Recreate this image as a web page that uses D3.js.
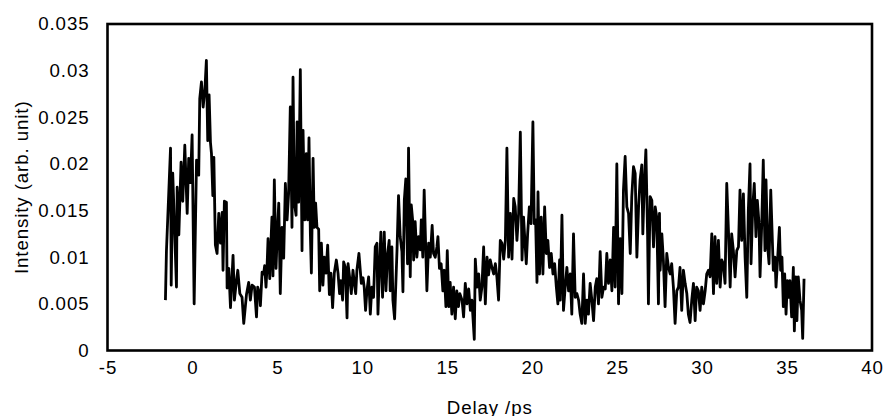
<!DOCTYPE html>
<html>
<head>
<meta charset="utf-8">
<script src="https://cdn.jsdelivr.net/npm/d3@7"></script>
<style>
  html, body { margin: 0; padding: 0; background: #fff; }
  svg text { font-family: "Liberation Sans", Arial, sans-serif; fill: #000; }
</style>
</head>
<body>
<svg id="chart" width="886" height="416"></svg>
<script>
// Pump-probe delay scan: measured intensity versus delay
const delay = [
  -1.59,-1.53,-1.29,-1.25,-1.16,-0.94,-0.90,-0.80,-0.67,-0.57,
  -0.45,-0.31,-0.22,-0.12,-0.02,0.10,0.24,0.37,0.43,0.53,
  0.63,0.73,0.82,0.90,0.98,1.06,1.12,1.20,1.26,1.35,
  1.45,1.55,1.65,1.75,1.80,1.88,2.00,2.04,2.14,2.24,
  2.39,2.47,2.59,2.67,2.79,2.92,3.02,3.18,3.31,3.41,
  3.51,3.65,3.77,3.84,3.96,
  4.00,4.10,4.19,4.25,4.33,4.39,4.45,4.55,4.63,4.68,
  4.74,4.82,4.92,4.98,5.08,5.17,5.27,5.37,5.47,5.57,
  5.66,5.76,5.86,5.92,6.00,6.10,6.16,6.25,6.35,6.45,
  6.51,6.61,6.70,6.78,6.86,6.94,7.00,7.10,7.17,7.25,
  7.33,7.43,7.49,7.59,7.68,7.76,7.86,7.96,8.06,8.15,
  8.25,8.35,8.47,8.57,8.66,8.74,8.84,8.90,9.00,9.10,
  9.16,9.25,9.35,9.45,9.53,9.61,9.68,9.80,
  9.94,10.04,10.11,10.19,10.27,10.37,10.47,10.56,10.66,10.76,
  10.86,10.92,11.02,11.09,11.19,11.29,11.39,11.49,11.58,11.64,
  11.74,11.80,11.90,12.04,12.13,12.23,12.33,12.39,12.47,12.56,
  12.66,12.72,12.82,12.88,12.96,13.02,13.11,13.21,13.31,13.41,
  13.47,13.56,13.64,13.74,13.80,13.90,14.00,14.11,14.19,14.29,
  14.39,14.45,14.54,14.64,14.74,14.82,14.92,15.00,15.09,15.17,
  15.27,15.37,15.47,15.56,15.66,15.74,
  15.87,15.96,16.06,16.16,16.26,16.36,16.45,16.59,16.65,16.75,
  16.85,16.94,17.04,17.14,17.24,17.34,17.43,17.53,17.63,17.73,
  17.83,17.92,18.02,18.12,18.22,18.32,18.42,18.51,18.61,18.71,
  18.81,18.91,19.00,19.10,19.20,19.30,19.40,19.49,19.59,19.65,
  19.73,19.83,19.93,20.04,20.12,20.20,20.28,20.34,20.43,20.53,
  20.63,20.73,20.83,20.92,21.02,21.12,21.22,21.32,21.42,21.51,
  21.61,
  21.65,21.75,21.84,21.94,22.04,22.14,22.24,22.33,22.43,22.53,
  22.63,22.73,22.82,22.92,23.02,23.12,23.22,23.31,23.41,23.51,
  23.61,23.71,23.80,23.90,24.00,24.10,24.20,24.30,24.39,24.49,
  24.59,24.69,24.79,24.88,24.98,25.08,25.18,25.28,25.37,25.47,
  25.57,25.67,25.77,25.86,25.96,26.06,26.16,26.26,26.35,26.45,
  26.51,26.59,26.69,26.79,26.84,26.94,27.04,27.14,27.24,27.33,
  27.43,27.49,
  27.53,27.63,27.72,27.82,27.92,28.02,28.12,28.21,28.31,28.41,
  28.51,28.61,28.70,28.80,28.90,29.00,29.10,29.19,29.29,29.39,
  29.49,29.59,29.68,29.78,29.88,29.98,30.08,30.18,30.27,30.37,
  30.47,30.57,30.67,30.76,30.86,30.96,31.06,31.16,31.25,31.35,
  31.45,31.55,31.65,31.74,31.84,31.94,32.04,32.14,32.23,32.33,
  32.43,32.53,32.63,32.72,32.82,
  32.88,32.98,33.07,33.17,33.25,33.35,33.41,33.51,33.60,33.70,
  33.76,33.86,33.94,34.04,34.11,34.19,34.29,34.35,34.45,34.55,
  34.62,34.70,34.78,34.86,34.94,35.02,35.09,35.17,35.27,35.37,
  35.43,35.51,35.58,35.66,35.76,35.86,35.92,36.00
];

const intensity = [
  0.0054,0.0107,0.0217,0.0070,0.0190,0.0068,0.0175,0.0124,0.0202,0.0160,
  0.0220,0.0147,0.0206,0.0180,0.0231,0.0050,0.0204,0.0188,0.0270,0.0288,
  0.0261,0.0279,0.0311,0.0225,0.0274,0.0223,0.0211,0.0166,0.0207,0.0113,
  0.0104,0.0147,0.0115,0.0148,0.0086,0.0160,0.0159,0.0067,0.0088,0.0046,
  0.0102,0.0054,0.0075,0.0086,0.0061,0.0057,0.0029,0.0060,0.0073,0.0054,
  0.0070,0.0068,0.0036,0.0068,0.0060,
  0.0048,0.0084,0.0082,0.0091,0.0068,0.0089,0.0120,0.0077,0.0120,0.0143,
  0.0080,0.0183,0.0088,0.0118,0.0158,0.0061,0.0132,0.0099,0.0179,0.0140,
  0.0168,0.0261,0.0132,0.0293,0.0158,0.0145,0.0245,0.0159,0.0301,0.0107,
  0.0236,0.0140,0.0211,0.0140,0.0228,0.0126,0.0083,0.0206,0.0132,0.0158,
  0.0132,0.0130,0.0064,0.0115,0.0070,0.0100,0.0083,0.0113,0.0060,0.0083,
  0.0046,0.0083,0.0097,0.0083,0.0061,0.0075,0.0054,0.0095,0.0089,0.0035,
  0.0093,0.0079,0.0061,0.0086,0.0072,0.0061,0.0086,0.0104,
  0.0072,0.0078,0.0068,0.0043,0.0064,0.0079,0.0039,0.0068,0.0057,0.0111,
  0.0115,0.0039,0.0093,0.0127,0.0057,0.0127,0.0064,0.0104,0.0118,0.0064,
  0.0111,0.0054,0.0034,0.0107,0.0166,0.0122,0.0106,0.0063,0.0161,0.0184,
  0.0093,0.0217,0.0079,0.0156,0.0140,0.0097,0.0138,0.0100,0.0122,0.0108,
  0.0140,0.0100,0.0172,0.0104,0.0064,0.0115,0.0100,0.0134,0.0104,0.0100,
  0.0111,0.0122,0.0088,0.0093,0.0064,0.0086,0.0047,0.0107,0.0047,0.0073,
  0.0039,0.0068,0.0034,0.0064,0.0047,0.0061,
  0.0054,0.0036,0.0072,0.0050,0.0066,0.0043,0.0054,0.0012,0.0098,0.0068,
  0.0082,0.0054,0.0068,0.0111,0.0050,0.0100,0.0081,0.0097,0.0089,0.0082,
  0.0093,0.0079,0.0054,0.0118,0.0115,0.0098,0.0118,0.0217,0.0100,0.0147,
  0.0098,0.0163,0.0154,0.0118,0.0147,0.0234,0.0097,0.0143,0.0111,0.0093,
  0.0125,0.0154,0.0136,0.0245,0.0136,0.0140,0.0073,0.0170,0.0082,0.0143,
  0.0082,0.0154,0.0104,0.0118,0.0089,0.0104,0.0082,0.0093,0.0068,0.0050,
  0.0097,
  0.0054,0.0145,0.0043,0.0068,0.0089,0.0064,0.0082,0.0039,0.0125,0.0057,
  0.0061,0.0054,0.0039,0.0029,0.0082,0.0029,0.0054,0.0039,0.0072,0.0054,
  0.0032,0.0068,0.0077,0.0050,0.0106,0.0057,0.0068,0.0066,0.0104,0.0072,
  0.0097,0.0064,0.0132,0.0068,0.0200,0.0050,0.0120,0.0061,0.0172,0.0208,
  0.0154,0.0147,0.0104,0.0165,0.0197,0.0190,0.0100,0.0154,0.0183,0.0199,
  0.0125,0.0175,0.0215,0.0125,0.0050,0.0165,0.0161,0.0111,0.0154,0.0143,
  0.0050,0.0147,
  0.0086,0.0125,0.0097,0.0047,0.0104,0.0089,0.0082,0.0093,0.0068,0.0029,
  0.0064,0.0068,0.0089,0.0043,0.0086,0.0072,0.0061,0.0039,0.0030,0.0054,
  0.0072,0.0032,0.0068,0.0064,0.0043,0.0068,0.0050,0.0064,0.0082,0.0086,
  0.0079,0.0125,0.0061,0.0122,0.0072,0.0118,0.0068,0.0097,0.0093,0.0072,
  0.0179,0.0129,0.0068,0.0125,0.0107,0.0079,0.0107,0.0111,0.0172,0.0118,
  0.0168,0.0100,0.0057,0.0150,0.0200,
  0.0093,0.0154,0.0179,0.0122,0.0161,0.0136,0.0079,0.0136,0.0204,0.0107,
  0.0183,0.0111,0.0093,0.0172,0.0132,0.0086,0.0100,0.0068,0.0100,0.0132,
  0.0086,0.0100,0.0047,0.0082,0.0039,0.0075,0.0057,0.0075,0.0036,0.0089,
  0.0021,0.0079,0.0032,0.0079,0.0054,0.0043,0.0013,0.0077
];

const xTicks = [-5, 0, 5, 10, 15, 20, 25, 30, 35, 40];
const yTicks = [0, 0.005, 0.01, 0.015, 0.02, 0.025, 0.03, 0.035];
const xTitle = "Delay /ps";
const yTitle = "Intensity (arb. unit)";

const W = 886, H = 416;
const margin = { left: 107.5, right: 14, top: 24, bottom: 65.5 };

const svg = d3.select("#chart");

const x = d3.scaleLinear().domain([-5, 40]).range([margin.left, W - margin.right]);
const y = d3.scaleLinear().domain([0, 0.035]).range([H - margin.bottom, margin.top]);

const fontSize = 18.7;
const spacing = 0.9;

// plain number text with an ASCII hyphen for negatives
const plain = d => String(+(+d).toFixed(3));

// y axis labels
const yAxis = svg.append("g")
  .attr("transform", `translate(${margin.left},0)`)
  .call(d3.axisLeft(y).tickValues(yTicks).tickSize(0).tickPadding(18)
        .tickFormat(plain));
yAxis.select(".domain").remove();
yAxis.selectAll("text")
  .style("font-family", '"Liberation Sans", Arial, sans-serif')
  .style("font-size", fontSize + "px")
  .style("letter-spacing", spacing + "px")
  .attr("fill", "#000");

// x axis labels
const xAxis = svg.append("g")
  .attr("transform", `translate(0,${H - margin.bottom})`)
  .call(d3.axisBottom(x).tickValues(xTicks).tickSize(0).tickPadding(10)
        .tickFormat(plain));
xAxis.select(".domain").remove();
xAxis.selectAll("text")
  .style("font-family", '"Liberation Sans", Arial, sans-serif')
  .style("font-size", fontSize + "px")
  .style("letter-spacing", spacing + "px")
  .attr("fill", "#000");

// data trace
const pts = d3.zip(delay, intensity);
const line = d3.line().x(d => x(d[0])).y(d => y(d[1]));
svg.append("path")
  .datum(pts)
  .attr("d", line)
  .attr("fill", "none")
  .attr("stroke", "#000")
  .attr("stroke-width", 2.8)
  .attr("stroke-linejoin", "round");

// plot frame
svg.append("rect")
  .attr("x", x(-5))
  .attr("y", y(0.035))
  .attr("width", x(40) - x(-5))
  .attr("height", y(0) - y(0.035))
  .attr("fill", "none")
  .attr("stroke", "#000")
  .attr("stroke-width", 2.6);

// axis titles
svg.append("text")
  .attr("x", (x(-5) + x(40)) / 2)
  .attr("y", 413.5)
  .attr("text-anchor", "middle")
  .style("font-size", fontSize + "px")
  .style("letter-spacing", spacing + "px")
  .text(xTitle);

svg.append("text")
  .attr("transform", `translate(28,${(y(0) + y(0.035)) / 2}) rotate(-90)`)
  .attr("text-anchor", "middle")
  .style("font-size", fontSize + "px")
  .style("letter-spacing", spacing + "px")
  .text(yTitle);
</script>
</body>
</html>
